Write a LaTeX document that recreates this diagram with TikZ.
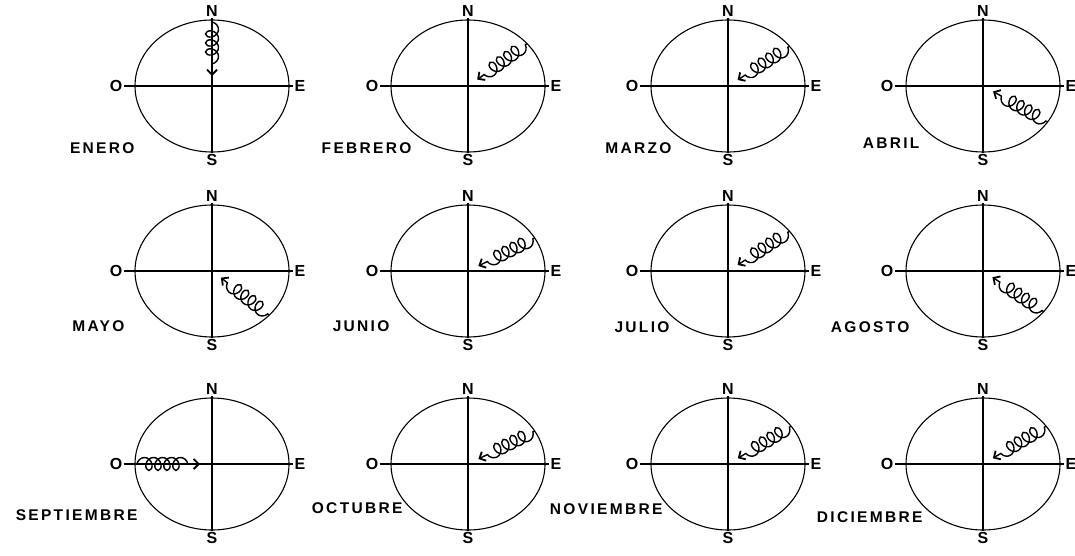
\documentclass[tikz,border=0pt]{standalone}
\usepackage{fontspec}
\setmainfont{Liberation Sans}
\newfontfamily\rotulo{Liberation Sans}[LetterSpace=15]
\usetikzlibrary{arrows.meta,decorations.pathmorphing}

\tikzset{
  punto/.style={font=\rotulo\bfseries\fontsize{16}{16}\selectfont, inner sep=1pt},
  mes/.style={font=\rotulo\bfseries\fontsize{15.5}{16}\selectfont, inner sep=0pt, anchor=east},
  viento/.style={line width=1.4pt, -{Straight Barb[length=5pt,width=10pt,line width=1.8pt]},
    decorate, decoration={coil, aspect=0.8, amplitude=6.5pt, segment length=9pt,
    pre length=2pt, post length=5pt}},
}

\begin{document}
\begin{tikzpicture}[x=1pt, y=1pt, line width=1.1pt]
  \useasboundingbox (0,0) rectangle (1075,555);
  % i / centro / angulo del viento / mes / rotulo
  \foreach \i/\cx/\cy/\t/\m/\lx/\ly in {
      1/212/469/90/ENERO/135/407,      2/468/469/40/FEBRERO/412/407,
      3/728/469/37/MARZO/672/407,      4/983/469/-33/ABRIL/920/412,
      5/212/284/-42/MAYO/125/229,      6/468/284/30/JUNIO/390/229,
      7/728/284/37/JULIO/670/228,      8/983/284/-38/AGOSTO/910/228,
      9/212/91/180/SEPTIEMBRE/138/40,  10/468/91/30/OCTUBRE/403/47,
      11/728/91/35/NOVIEMBRE/663/46,   12/983/91/35/DICIEMBRE/923/38}{
    \coordinate (c\i) at (\cx,\cy);
    \draw (c\i) ellipse [x radius=77, y radius=66];
    \node[punto] (n\i) at ([shift={(0,75)}]c\i)  {N};
    \node[punto] (s\i) at ([shift={(0,-74)}]c\i) {S};
    \node[punto] (o\i) at ([shift={(-96,0)}]c\i) {O};
    \node[punto] (e\i) at ([shift={(88,0)}]c\i)  {E};
    \draw (n\i.south) -- (s\i.north);
    \draw (o\i.east) -- (e\i.west);
    \coordinate (cola\i)  at ([shift={(\t:77 and 66)}]c\i);
    \coordinate (punta\i) at ([shift={(\t:12 and 10)}]c\i);
    \draw[viento] (cola\i) -- (punta\i);
    \node[mes] (m\i) at (\lx,\ly) {\m};
  }
\end{tikzpicture}
\end{document}
